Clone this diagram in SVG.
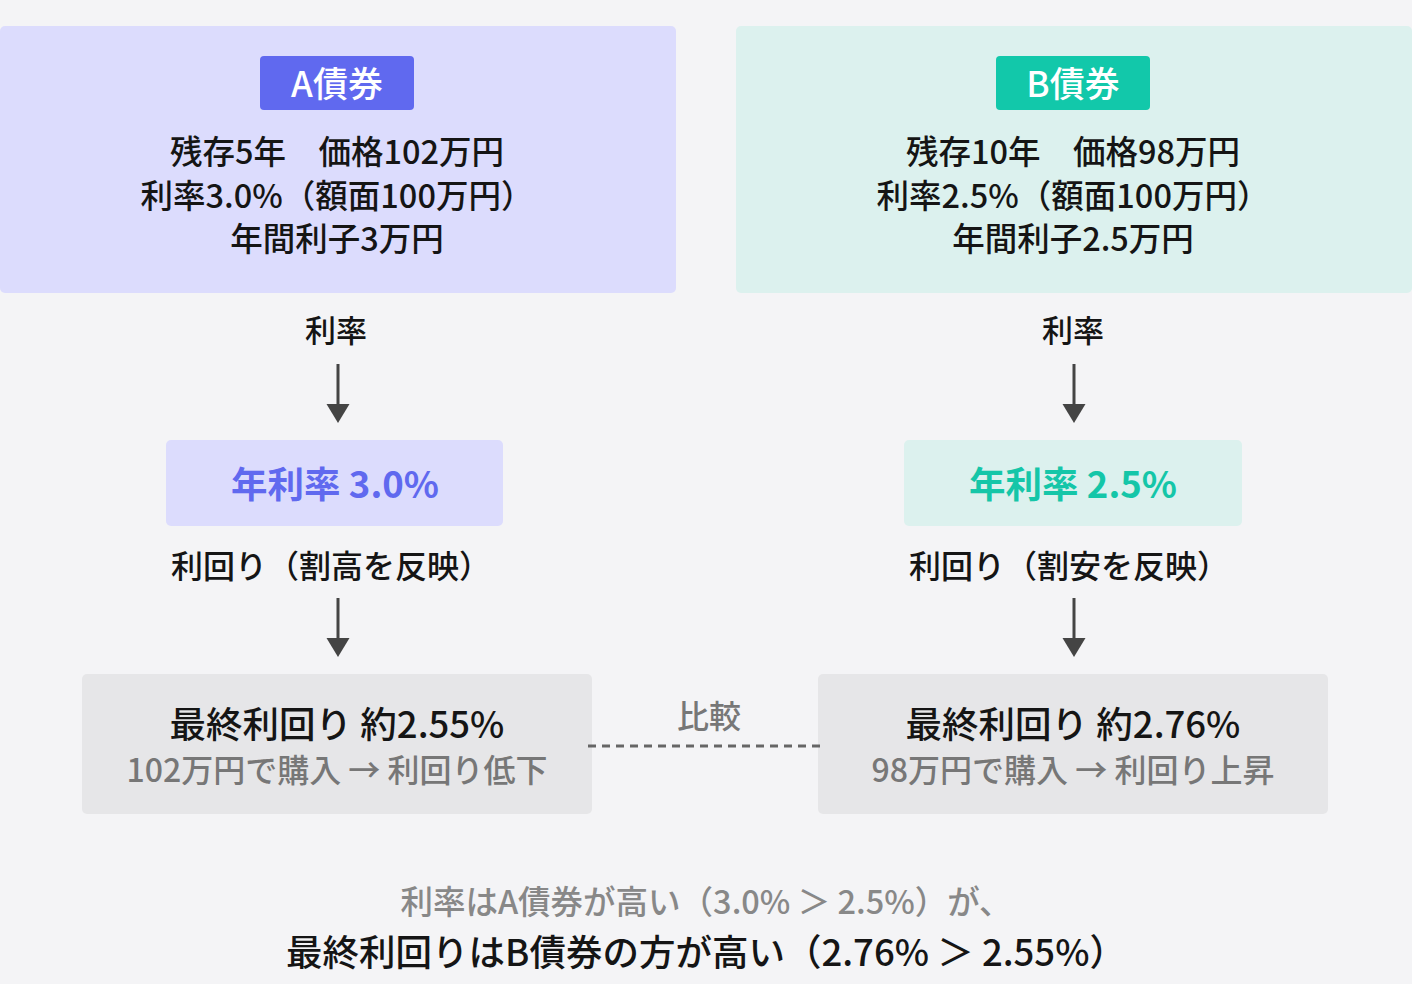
<svg xmlns="http://www.w3.org/2000/svg" width="1412" height="984" viewBox="0 0 1412 984">
  <defs>
    <style>
      text { font-family: "Noto Sans CJK JP", "Noto Sans", sans-serif; text-anchor: middle; }
      .main { fill: #151515; font-weight: 500; }
      .body { font-size: 32.5px; }
      .lbl { font-size: 31px; }
      .lbl2 { font-size: 32px; }
      .badge-t { fill: #ffffff; font-size: 35px; font-weight: 500; }
      .rate { font-size: 36.5px; font-weight: 700; }
      .res { font-size: 36.5px; }
      .sub { fill: #777777; font-size: 32px; font-weight: 500; }
      .arrow-line { stroke: #444444; stroke-width: 3; fill: none; }
      .arrow-head { fill: #444444; }
    </style>
  </defs>
  <rect x="0" y="0" width="1412" height="984" fill="#f4f4f6"/>

  <g id="bondA">
    <rect x="0" y="26" width="676" height="267" rx="5" fill="#dcdcfd"/>
    <rect x="260" y="56" width="154" height="54" rx="4" fill="#6069ef"/>
    <text class="badge-t" x="337" y="97">A債券</text>
    <text class="main body" x="337" y="164">残存5年　価格102万円</text>
    <text class="main body" x="337" y="208">利率3.0%（額面100万円）</text>
    <text class="main body" x="337" y="251">年間利子3万円</text>
  </g>

  <g id="bondB">
    <rect x="736" y="26" width="676" height="267" rx="5" fill="#dcf1ee"/>
    <rect x="996" y="56" width="154" height="54" rx="4" fill="#12c8aa"/>
    <text class="badge-t" x="1073" y="97">B債券</text>
    <text class="main body" x="1073" y="164">残存10年　価格98万円</text>
    <text class="main body" x="1073" y="208">利率2.5%（額面100万円）</text>
    <text class="main body" x="1073" y="251">年間利子2.5万円</text>
  </g>

  <g id="labelsA">
    <text class="main lbl" x="336" y="342">利率</text>
    <text class="main lbl2" x="331" y="578">利回り（割高を反映）</text>
  </g>
  <g id="labelsB">
    <text class="main lbl" x="1073" y="342">利率</text>
    <text class="main lbl2" x="1069" y="578">利回り（割安を反映）</text>
  </g>

  <g id="rateA">
    <rect x="166" y="440" width="337" height="86" rx="5" fill="#dcdcfd"/>
    <text class="rate" x="335" y="498" fill="#6069ef">年利率 3.0%</text>
  </g>
  <g id="rateB">
    <rect x="904" y="440" width="338" height="86" rx="5" fill="#dcf1ee"/>
    <text class="rate" x="1073" y="498" fill="#15c6a8">年利率 2.5%</text>
  </g>

  <g id="yieldA">
    <rect x="82" y="674" width="510" height="140" rx="5" fill="#e6e6e8"/>
    <text class="main res" x="337" y="738">最終利回り 約2.55%</text>
    <text class="sub" x="337" y="782">102万円で購入 → 利回り低下</text>
  </g>
  <g id="yieldB">
    <rect x="818" y="674" width="510" height="140" rx="5" fill="#e6e6e8"/>
    <text class="main res" x="1073" y="738">最終利回り 約2.76%</text>
    <text class="sub" x="1073" y="782">98万円で購入 → 利回り上昇</text>
  </g>

  <g id="connectors">
    <line class="arrow-line" x1="338" y1="364" x2="338" y2="406"/>
    <polygon class="arrow-head" points="326.5,404 349.5,404 338,423"/>
    <line class="arrow-line" x1="1074" y1="364" x2="1074" y2="406"/>
    <polygon class="arrow-head" points="1062.5,404 1085.5,404 1074,423"/>
    <line class="arrow-line" x1="338" y1="598" x2="338" y2="640"/>
    <polygon class="arrow-head" points="326.5,638 349.5,638 338,657"/>
    <line class="arrow-line" x1="1074" y1="598" x2="1074" y2="640"/>
    <polygon class="arrow-head" points="1062.5,638 1085.5,638 1074,657"/>
    <line x1="588" y1="746" x2="822" y2="746" stroke="#666666" stroke-width="3" stroke-dasharray="8 6"/>
    <text x="709" y="728" fill="#777777" font-size="32" font-weight="500">比較</text>
  </g>

  <g id="summary">
    <text x="706" y="914" fill="#888888" font-size="32.5" font-weight="500">利率はA債券が高い（3.0% ＞ 2.5%）が、</text>
    <text class="main" x="706" y="966" font-size="36.5">最終利回りはB債券の方が高い（2.76% ＞ 2.55%）</text>
  </g>
</svg>
